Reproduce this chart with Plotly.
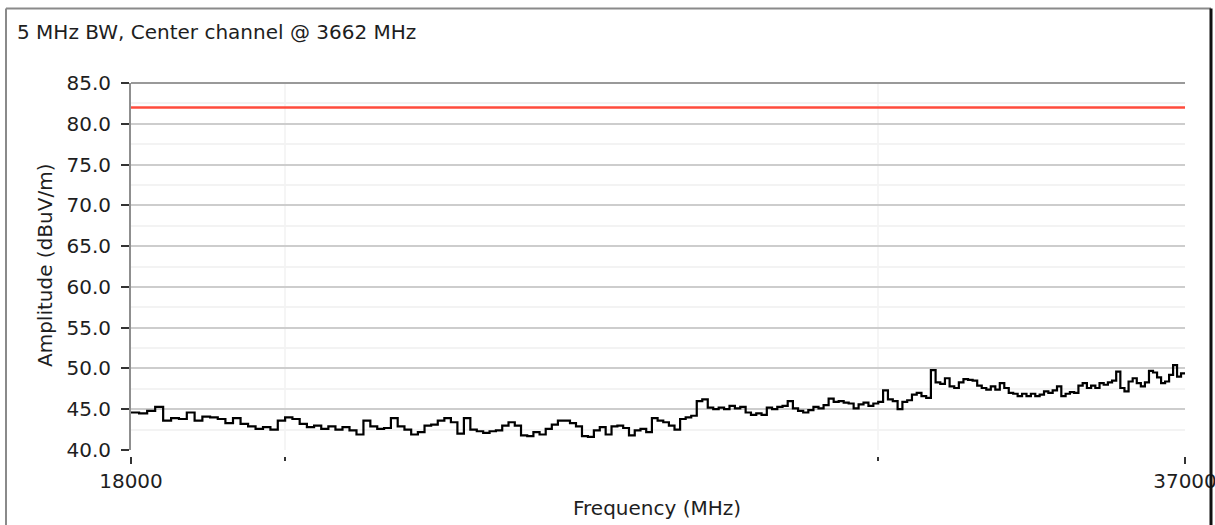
import plotly.graph_objects as go

# Sweep frequencies (MHz)
freq_mhz = [
    18000, 18100, 18200, 18300, 18400, 18500, 18600, 18700, 18800, 18900,
    19000, 19100, 19200, 19300, 19400, 19500, 19600, 19700, 19800, 19900,
    20000, 20100, 20200, 20300, 20400, 20500, 20600, 20700, 20800, 20900,
    21000, 21100, 21200, 21300, 21400, 21500, 21600, 21700, 21800, 21900,
    22000, 22100, 22200, 22300, 22400, 22500, 22600, 22700, 22800, 22900,
    23000, 23100, 23200, 23300, 23400, 23500, 23600, 23700, 23800, 23900,
    24000, 24100, 24200, 24300, 24400, 24500, 24600, 24700, 24800, 24900,
    25000, 25100, 25200, 25300, 25400, 25500, 25600, 25700, 25800, 25900,
    26000, 26100, 26200, 26300, 26400, 26500, 26600, 26700, 26800, 26900,
    27000, 27100, 27200, 27300, 27400, 27500, 27600, 27700, 27800, 27900,
    28000, 28100, 28200, 28300, 28400, 28500, 28600, 28700, 28800, 28900,
    29000, 29100, 29200, 29300, 29400, 29500, 29600, 29700, 29800, 29900,
    30000, 30100, 30200, 30300, 30400, 30500, 30600, 30700, 30800, 30900,
    31000, 31100, 31200, 31300, 31400, 31500, 31600, 31700, 31800, 31900,
    32000, 32100, 32200, 32300, 32400, 32500, 32600, 32700, 32800, 32900,
    33000, 33100, 33200, 33300, 33400, 33500, 33600, 33700, 33800, 33900,
    34000, 34100, 34200, 34300, 34400, 34500, 34600, 34700, 34800, 34900,
    35000, 35100, 35200, 35300, 35400, 35500, 35600, 35700, 35800, 35900,
    36000, 36100, 36200, 36300, 36400, 36500, 36600, 36700, 36800, 36900,
    37000,
]

# Measured field strength (dBuV/m)
amplitude_dbuv = [
    44.6, 44.5, 44.8, 45.3, 43.6, 43.9, 43.8, 44.6, 43.6, 44.1,
    44.0, 43.8, 43.3, 43.9, 43.2, 42.9, 42.6, 42.8, 42.5, 43.6,
    44.0, 43.8, 43.2, 42.8, 43.0, 42.6, 42.9, 42.5, 42.8, 42.4,
    41.9, 43.6, 42.9, 42.6, 42.7, 43.9, 42.9, 42.5, 41.9, 42.2,
    43.0, 43.1, 43.6, 43.9, 43.4, 42.0, 43.9, 42.5, 42.3, 42.1,
    42.3, 42.4, 43.0, 43.4, 43.0, 41.8, 41.7, 42.2, 41.9, 42.6,
    43.1, 43.6, 43.6, 43.3, 42.9, 41.7, 41.6, 42.4, 42.8, 41.9,
    42.9, 43.0, 42.7, 41.8, 42.4, 42.6, 42.2, 43.9, 43.6, 43.4,
    43.0, 42.5, 43.8, 44.0, 44.2, 46.0, 46.2, 45.2, 45.0, 45.2,
    45.0, 45.4, 45.1, 45.3, 44.6, 44.3, 44.5, 44.3, 45.2, 45.0,
    45.3, 45.4, 46.0, 45.1, 44.8, 44.6, 44.9, 45.3, 45.1, 45.5,
    46.3, 45.9, 46.0, 45.8, 45.7, 45.1, 45.6, 45.8, 45.4, 45.7,
    45.9, 47.3, 46.2, 46.0, 45.0, 45.9, 46.1, 46.8, 47.0, 46.6,
    46.4, 49.8, 48.3, 48.1, 48.8, 47.8, 47.6, 48.3, 48.7, 48.6,
    48.5, 47.9, 47.6, 47.4, 47.8, 47.4, 48.2, 47.6, 47.0, 46.9,
    46.6, 46.9, 46.6, 46.9, 46.6, 46.8, 47.2, 47.0, 47.3, 47.8,
    46.6, 46.9, 47.1, 47.0, 47.9, 48.2, 47.6, 47.9, 47.6, 48.2,
    48.0, 48.3, 48.5, 49.6, 47.6, 47.2, 48.4, 48.8, 48.2, 47.8,
    48.3, 49.7, 49.5, 48.9, 48.2, 48.4, 49.2, 50.4, 49.0, 49.4,
    49.5,
]

# Limit line
limit_freq = [18000, 37000]
limit_dbuv = [82.0, 82.0]

# Axis ticks
y_ticks = [40, 45, 50, 55, 60, 65, 70, 75, 80, 85]
x_label_ticks = [18000, 37000]
x_label_text = ["18000", "37000"]
x_minor_ticks = [20000, 30000]

FONT = "DejaVu Sans"
TXT = "#1e1e1e"

fig = go.Figure()
fig.add_trace(go.Scatter(
    x=limit_freq, y=limit_dbuv, mode="lines",
    line=dict(color="#ff4b3c", width=2.5), hoverinfo="skip",
))
fig.add_trace(go.Scatter(
    x=freq_mhz, y=amplitude_dbuv, mode="lines",
    line=dict(color="#000000", width=2.2, shape="hv"),
))

# plot area spans 83..456 px vertically; y data domain starts a few px above the x ticks
Y0 = 6 / 373

fig.update_layout(
    width=1215, height=525,
    margin=dict(l=131, r=30, t=83, b=69, autoexpand=False),
    paper_bgcolor="white", plot_bgcolor="white",
    showlegend=False,
    font=dict(family=FONT, size=20, color=TXT),
    title=dict(
        text="5 MHz BW, Center channel @ 3662 MHz",
        x=17 / 1215, xanchor="left", xref="container",
        y=1 - 32 / 525, yanchor="middle", yref="container",
        font=dict(family=FONT, size=20, color=TXT),
    ),
    xaxis=dict(
        type="log",
        range=[4.255273, 4.568202],
        anchor="free", position=0,
        automargin=False,
        showline=False, showgrid=False, zeroline=False,
        tickmode="array", tickvals=x_label_ticks, ticktext=x_label_text,
        ticks="outside", ticklen=7, tickwidth=1.5, tickcolor="#333",
        ticklabeloverflow="allow",
        tickfont=dict(family=FONT, size=20, color=TXT),
        minor=dict(tickmode="array", tickvals=x_minor_ticks, ticks="outside",
                   ticklen=4, tickwidth=1.5, tickcolor="#333",
                   showgrid=True, gridcolor="#f5f5f5", gridwidth=1.5),
    ),
    yaxis=dict(
        domain=[Y0, 1],
        range=[40, 85],
        automargin=False,
        tickmode="array", tickvals=y_ticks, tickformat=".1f",
        showline=True, linecolor="#8f8f8f", linewidth=2,
        ticks="outside", ticklen=8, tickwidth=1.5, tickcolor="#333",
        ticklabelstandoff=6,
        showgrid=True, gridcolor="#cdcdcd", gridwidth=1.5,
        zeroline=False,
        tickfont=dict(family=FONT, size=20, color=TXT),
        minor=dict(dtick=2.5, tick0=40, showgrid=True,
                   gridcolor="#f3f3f3", gridwidth=1.5),
    ),
    annotations=[
        dict(text="Amplitude (dBuV/m)", xref="paper", yref="paper",
             x=(45 - 131) / 1054, y=(456 - 266) / 373,
             xanchor="center", yanchor="middle", textangle=-90,
             showarrow=False, font=dict(family=FONT, size=20, color=TXT)),
        dict(text="Frequency (MHz)", xref="paper", yref="paper",
             x=(657 - 131) / 1054, y=(456 - 508) / 373,
             xanchor="center", yanchor="middle",
             showarrow=False, font=dict(family=FONT, size=20, color=TXT)),
    ],
    shapes=[
        # hide the gridline on the bottom edge of the data area
        dict(type="line", xref="paper", yref="y", layer="between",
             x0=0.002, x1=1, y0=40, y1=40,
             line=dict(color="white", width=3)),
        # top edge of the plotting frame
        dict(type="line", xref="paper", yref="paper", x0=0, x1=1, y0=1, y1=1,
             line=dict(color="#999999", width=2)),
        # panel border
        dict(type="line", xref="paper", yref="paper",
             x0=(6 - 131) / 1054, x1=(6 - 131) / 1054,
             y0=(456 - 530) / 373, y1=(456 - 8.5) / 373,
             line=dict(color="#8a8a8a", width=2)),
        dict(type="line", xref="paper", yref="paper",
             x0=(6 - 131) / 1054, x1=(1211 - 131) / 1054,
             y0=(456 - 8.5) / 373, y1=(456 - 8.5) / 373,
             line=dict(color="#8a8a8a", width=2)),
        dict(type="line", xref="paper", yref="paper",
             x0=(1211 - 131) / 1054, x1=(1211 - 131) / 1054,
             y0=(456 - 530) / 373, y1=(456 - 8.5) / 373,
             line=dict(color="#111111", width=3)),
    ],
)

fig.write_html("out.html")
